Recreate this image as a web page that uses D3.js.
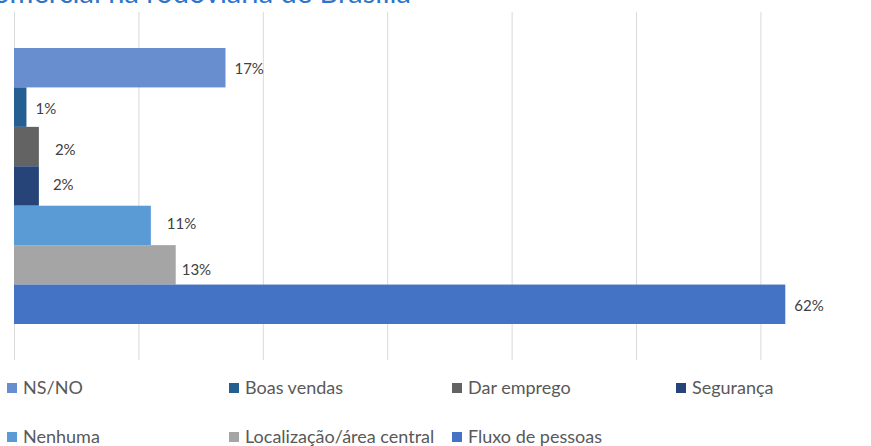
<!DOCTYPE html>
<html><head><meta charset="utf-8">
<script src="https://cdn.jsdelivr.net/npm/d3@7"></script>
<style>body{margin:0;background:#fff} svg{display:block}</style>
</head><body><svg id="c" width="871" height="446"></svg>
<script>
const series = ["NS/NO","Boas vendas","Dar emprego","Segurança","Nenhuma","Localização/área central","Fluxo de pessoas"];
const values = [17,1,2,2,11,13,62];
const labels = ["17%","1%","2%","2%","11%","13%","62%"];
const colors = ["#698ED0","#255E91","#636363","#264478","#5B9BD5","#A5A5A5","#4472C4"];
const gridTicks = [0,10,20,30,40,50,60,70];
const labelNudge = [[9,1],[9,1.5],[16,3],[14,-1.5],[16,-1.5],[6,5],[9,1.5]];
const titleText = "comercial na rodoviária de Brasília";
const legendRows = [[0,1,2,3],[4,5,6]];

const FONT = "Lato, 'Open Sans', sans-serif";
const svg = d3.select("#c");
const plot = {left:14, top:12, bottom:360, pxPer:12.44};

// title (mostly cut off above the frame, as in the reference)
svg.append("text").attr("x",411).attr("y",3).attr("text-anchor","end")
  .attr("font-family",FONT).attr("font-size",29).attr("fill","#2F74C8").text(titleText);

const x = d3.scaleLinear().domain([0,70]).range([plot.left, plot.left+70*plot.pxPer]);
const y = d3.scaleBand().domain(series).range([48,324]).paddingInner(0);

// gridlines
const gAxis = svg.append("g").attr("transform",`translate(0,${plot.top})`)
  .call(d3.axisBottom(x).tickValues(gridTicks).tickSize(plot.bottom-plot.top).tickFormat(""));
gAxis.select(".domain").remove();
gAxis.selectAll(".tick line").attr("stroke","#D9D9D9").attr("stroke-width",1);

// bars
svg.append("g").selectAll("rect").data(series).join("rect")
  .attr("x",x(0)).attr("y",d=>y(d))
  .attr("width",(d,i)=>x(values[i])-x(0)).attr("height",y.bandwidth())
  .attr("fill",(d,i)=>colors[i]);

// labels
svg.append("g").selectAll("text").data(series).join("text")
  .attr("x",(d,i)=>x(values[i])+labelNudge[i][0])
  .attr("y",(d,i)=>y(d)+y.bandwidth()/2+labelNudge[i][1])
  .attr("dy","0.35em")
  .attr("font-family",FONT).attr("font-size",15).attr("fill","#404040")
  .text((d,i)=>labels[i]);

// legend
const colX = [7,229,452,676];
const rowY = [388,437];
const leg = svg.append("g");
legendRows.forEach((row,r)=>{
  row.forEach((si,c)=>{
    const g = leg.append("g").attr("transform",`translate(${colX[c]},${rowY[r]})`);
    g.append("rect").attr("x",0).attr("y",-5).attr("width",10).attr("height",10).attr("fill",colors[si]);
    g.append("text").attr("x",16).attr("y",0).attr("dy","0.36em")
      .attr("font-family",FONT).attr("font-size",18).attr("fill","#595959").text(series[si]);
  });
});
</script></body></html>
